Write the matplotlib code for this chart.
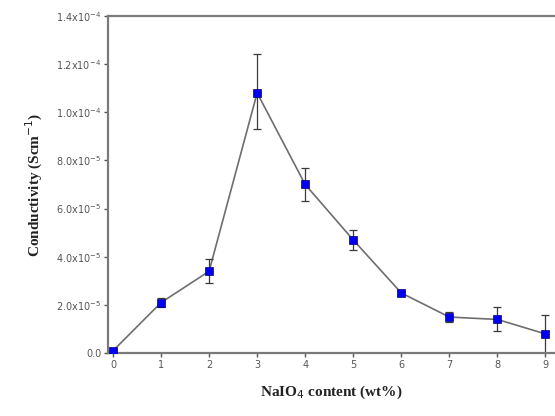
import matplotlib
matplotlib.use('Agg')
import matplotlib.pyplot as plt

# NaIO4 content vs conductivity, with error bars
content = [0, 1, 2, 3, 4, 5, 6, 7, 8, 9]
conductivity = [0.01e-4, 0.21e-4, 0.34e-4, 1.08e-4, 0.70e-4, 0.47e-4, 0.25e-4, 0.15e-4, 0.14e-4, 0.08e-4]
err_low = [0.005e-4, 0.02e-4, 0.05e-4, 0.15e-4, 0.07e-4, 0.04e-4, 0.01e-4, 0.02e-4, 0.05e-4, 0.08e-4]
err_high = [0.005e-4, 0.02e-4, 0.05e-4, 0.16e-4, 0.07e-4, 0.04e-4, 0.01e-4, 0.02e-4, 0.05e-4, 0.08e-4]

ytick_vals = [0, 0.2e-4, 0.4e-4, 0.6e-4, 0.8e-4, 1.0e-4, 1.2e-4, 1.4e-4]
ytick_labels = ['0.0', '2.0x10$^{-5}$', '4.0x10$^{-5}$', '6.0x10$^{-5}$', '8.0x10$^{-5}$',
                '1.0x10$^{-4}$', '1.2x10$^{-4}$', '1.4x10$^{-4}$']

fig = plt.figure(figsize=(5.55, 4.16), dpi=100)
ax = fig.add_axes([0.195, 0.151, 0.805, 0.811])

ax.plot(content, conductivity, color='#6e6e6e', lw=1.2, zorder=1)
ax.errorbar(content, conductivity, yerr=[err_low, err_high], fmt='none',
            ecolor='#3a3a3a', elinewidth=0.9, capsize=3, capthick=0.9, zorder=2)
ax.plot(content, conductivity, 's', color='#0000ee', mec='#000080', ms=6, mew=0.5, zorder=3)

ax.set_xlim(-0.1, 9.2)
ax.set_ylim(0, 1.4e-4)
ax.set_xticks(content)
ax.set_xticklabels([str(c) for c in content])
ax.set_yticks(ytick_vals)
ax.set_yticklabels(ytick_labels)

for side in ['left', 'bottom', 'top']:
    ax.spines[side].set_color('#7a7a7a')
    ax.spines[side].set_linewidth(1.6)
ax.spines['right'].set_visible(False)

ax.tick_params(direction='out', length=3, width=1, color='#555555',
               labelsize=7, labelcolor='#555555', pad=2)

ax.set_xlabel('NaIO$_4$ content (wt%)', family='Liberation Serif', fontweight='bold',
              fontsize=11, color='#222222', labelpad=10)
ax.set_ylabel('Conductivity (Scm$^{-1}$)', family='Liberation Serif', fontweight='bold',
              fontsize=11, color='#222222', labelpad=8)

fig.savefig('out.png', dpi=100)
plt.close(fig)
